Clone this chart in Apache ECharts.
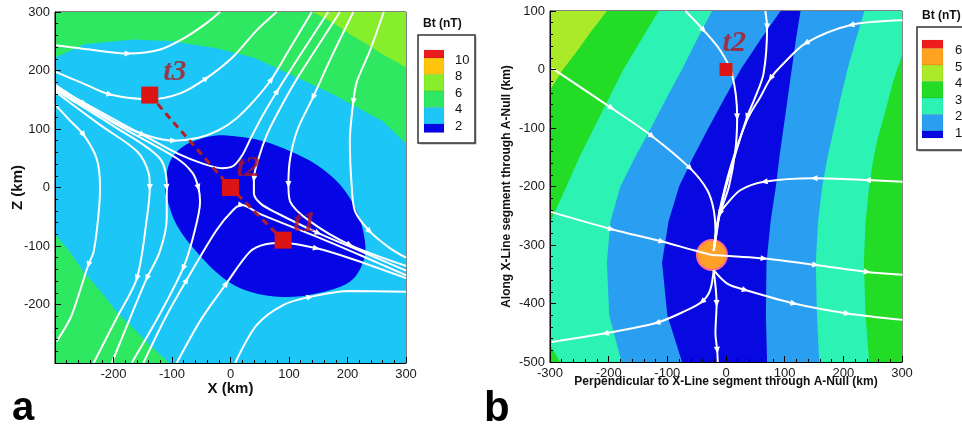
<!DOCTYPE html>
<html>
<head>
<meta charset="utf-8">
<script src="https://cdn.jsdelivr.net/npm/echarts@6/dist/echarts.min.js"></script>
<style>html,body{margin:0;padding:0;background:#fff}#main{width:962px;height:428px}</style>
</head>
<body>
<div id="main"></div>
<script>
var myChart = echarts.init(document.getElementById('main'));
var FONT = 'Liberation Sans';

// ---- panel a : legend levels and colours
var aLegendLabels = ['10', '8', '6', '4', '2'];
var aLegendColors = ['#ec1c1c', '#ffc40c', '#86ee2a', '#2ee862', '#1cc6f6', '#0505e6'];

// panel a contour regions (km)
var aGreenTop = [[-330,222],[-300,222],[-250,245],[-166,253],[-100,250],[-24,238],[40,222],[90,199],[176,159],[261,113],[300,75],[330,55],[330,330],[-330,330]];
var aLimeTop = [[140,330],[140,300],[175,282],[204,262],[235,244],[261,227],[285,214],[300,205],[330,190],[330,330]];
var aGreenBottom = [[-330,-80],[-300,-80],[-275,-110],[-251,-144],[-220,-180],[-195,-212],[-165,-242],[-138,-269],[-105,-300],[-100,-330],[-330,-330]];
var aBlueCore = [[-112,0],[-103,45],[-81,70],[-52,83],[-24,89],[11,87],[56,79],[102,62],[147,39],[187,5],[216,-41],[230,-93],[227,-127],[204,-161],[147,-181],[90,-187],[33,-178],[-12,-155],[-58,-110],[-92,-64],[-109,-18]];

// panel a streamlines (km)
var aU1 = [[-300,243],[-235,235],[-175,229],[-120,236],[-75,258],[-41,281],[-18,300]];
var aU2 = [[-300,198],[-252,178],[-206,159],[-138,151],[-86,161],[-41,187],[5,224],[45,269],[79,300]];
var aU3 = [[-300,176],[-250,143],[-195,110],[-140,88],[-97,80],[-55,85],[-20,98],[10,118],[40,148],[70,185],[100,235],[139,300]];
var aU4 = [[-300,172],[-220,128],[-150,90],[-90,58],[-45,40],[-15,33],[5,37],[20,55],[35,85],[55,123],[80,165],[115,220],[167,300]];
var aR1 = [[187,300],[145,235],[110,180],[82,130],[62,90],[48,50],[40,15],[40,-10],[52,-28],[80,-44],[150,-78],[230,-112],[300,-142]];
var aR2 = [[210,300],[172,222],[141,154],[115,100],[102,50],[99,5],[102,-24],[136,-58],[204,-98],[300,-134]];
var aR3 = [[262,300],[238,233],[216,181],[210,147],[204,79],[207,5],[213,-41],[238,-75],[273,-104],[300,-120]];
var aH1 = [[-300,142],[-275,115],[-251,90],[-229,50],[-223,0],[-226,-50],[-234,-110],[-243,-132],[-260,-185],[-274,-224],[-297,-263]];
var aH2 = [[-300,164],[-223,107],[-160,62],[-140,25],[-138,0],[-143,-53],[-160,-155],[-195,-224],[-234,-300]];
var aH3 = [[-300,167],[-195,102],[-121,50],[-109,0],[-109,-53],[-121,-110],[-143,-155],[-172,-224],[-203,-300]];
var aH4 = [[-300,170],[-195,108],[-92,50],[-65,25],[-55,0],[-52,-24],[-63,-81],[-81,-138],[-120,-215],[-169,-300]];
var aB1 = [[-149,-300],[-110,-220],[-75,-158],[-24,-73],[5,-38],[19,-30],[50,-45],[147,-84],[227,-118],[300,-150]];
var aB2 = [[-92,-300],[-50,-225],[-7,-164],[33,-110],[60,-97],[90,-95],[147,-104],[204,-121],[300,-155]];
var aB3 = [[8,-300],[45,-235],[90,-201],[136,-187],[204,-177],[300,-178]];
var aLines = [aU1, aU2, aU3, aU4, aR1, aR2, aR3, aH1, aH2, aH3, aH4, aB1, aB2, aB3];
var aArrowIdx = [[2],[2,5],[1,4,9],[2,10],[6,10],[2,5,8],[3,7],[2,7],[4,6],[3,6],[4,7],[2,5],[2,6],[3]];

// panel a spacecraft positions
var aSites = [[-138,158],[0,0],[90,-90]];
var aSiteNames = ['t3', 't2', 't1'];
var aSiteLabelPos = [[-95,197],[30,33],[127,-61]];

// ---- panel b : legend levels and colours
var bLegendLabels = ['6', '5', '4', '3', '2', '1'];
var bLegendColors = ['#ee1c1c', '#ffa21f', '#aaea28', '#22dc26', '#2cf2b4', '#2a9ef0', '#0808e0'];

// panel b contour boundaries (km), top to bottom
var bLimeEdge = [[-195,110],[-203,100],[-230,65],[-255,30],[-278,0],[-300,-35],[-310,-45]];
var bGreenAquaLeft = [[-115,100],[-145,50],[-175,0],[-200,-50],[-225,-100],[-250,-150],[-272,-200],[-300,-262],[-310,-330],[-306,-420],[-300,-470],[-283,-500]];
var bAquaBlueLeft = [[-24,100],[-50,50],[-75,0],[-102,-50],[-128,-100],[-155,-150],[-180,-200],[-197,-260],[-203,-330],[-199,-420],[-178,-500]];
var bBlueDarkLeft = [[93,100],[58,50],[25,0],[-3,-50],[-30,-100],[-56,-150],[-80,-200],[-98,-260],[-109,-330],[-100,-420],[-75,-500]];
var bDarkBlueRight = [[127,100],[119,50],[112,0],[105,-50],[98,-100],[91,-150],[85,-200],[76,-260],[69,-330],[68,-420],[70,-500]];
var bBlueAquaRight = [[236,100],[221,50],[207,0],[195,-50],[184,-100],[173,-150],[164,-200],[157,-260],[153,-330],[155,-420],[159,-500]];
var bAquaGreenRight = [[330,60],[300,25],[285,-20],[272,-70],[258,-120],[250,-160],[244,-200],[238,-260],[235,-330],[238,-420],[244,-500]];
var bOrangeCorner = [[-310,110],[-288,110],[-310,86]];

// panel b streamlines (km)
var bS1 = [[-69,100],[-38,67],[-10,33],[10,-7],[19,-81],[16,-138],[5,-200],[-12,-252],[-21,-308]];
var bS2 = [[67,100],[70,73],[64,-7],[48,-52],[36,-81],[13,-155],[-10,-240],[-18,-292],[-21,-310]];
var bS3 = [[301,84],[213,76],[136,45],[93,5],[76,-15],[59,-46],[36,-86],[8,-166],[-12,-246],[-19,-292],[-21,-310]];
var bS4 = [[301,-192],[241,-189],[150,-186],[65,-192],[25,-206],[2,-229],[-10,-246],[-16,-280],[-21,-310]];
var bS5 = [[-296,2],[-195,-66],[-126,-114],[-61,-169],[-32,-206],[-21,-240],[-18,-280],[-21,-310]];
var bS6 = [[-300,-243],[-195,-273],[-109,-294],[-55,-309],[-24,-317]];
var bS7 = [[-24,-317],[65,-323],[153,-334],[241,-346],[301,-351]];
var bS8 = [[-21,-343],[2,-366],[33,-377],[116,-400],[207,-417],[301,-428]];
var bS9 = [[-21,-343],[-27,-377],[-41,-397],[-72,-414],[-118,-433],[-206,-451],[-297,-466]];
var bS10 = [[-21,-343],[-16,-400],[-18,-451],[-15,-480],[-14,-500]];
var bLines = [bS1, bS2, bS3, bS4, bS5, bS6, bS7, bS8, bS9, bS10];
var bArrowIdx = [[1,4],[1,4],[1,2,4],[1,2,3,6],[1,2,3],[1,2],[1,2,3],[2,3,4],[2,4,5],[1,3]];

var bNull = [[-24,-317]];
var bSites = [[0,0]];
var bSiteLabelPos = [[14,45]];

// ---- helpers
function band(left, right) {
  var pts = [[left[0][0], 110]].concat(left);
  pts.push([left[left.length-1][0], -510]);
  pts.push([right[right.length-1][0], -510]);
  pts = pts.concat(right.slice().reverse());
  pts.push([right[0][0], 110]);
  return pts;
}

function polySeries(xi, polys) {
  return {
    type: 'custom', xAxisIndex: xi, yAxisIndex: xi, clip: true, z: 1, silent: true,
    data: polys.map(function () { return [0, 0]; }),
    renderItem: function (params, api) {
      var p = polys[params.dataIndex];
      return {
        type: 'polygon',
        shape: { points: p.pts.map(function (d) { return api.coord(d); }), smooth: p.smooth || 0 },
        style: { fill: p.color }
      };
    }
  };
}

function lineSeries(xi, lines) {
  return lines.map(function (l) {
    return {
      type: 'line', xAxisIndex: xi, yAxisIndex: xi, data: l, smooth: 0.3, symbol: 'none',
      lineStyle: { color: '#fff', width: 2 }, z: 3, silent: true, clip: true
    };
  });
}

function arrowSeries(xi, lines, idxs) {
  var out = [];
  lines.forEach(function (line, i) {
    idxs[i].forEach(function (k) {
      var a = line[Math.max(k - 1, 0)], b = line[Math.min(k + 1, line.length - 1)];
      var ang = Math.atan2(b[1] - a[1], b[0] - a[0]) * 180 / Math.PI;
      out.push({ value: line[k], symbolRotate: ang - 90 });
    });
  });
  return {
    type: 'scatter', xAxisIndex: xi, yAxisIndex: xi, data: out, symbol: 'triangle',
    symbolSize: [6, 7], itemStyle: { color: '#fff', opacity: 1 }, z: 3, silent: true
  };
}

function xAxisOf(gi, name, gap, hideMin) {
  return {
    gridIndex: gi, type: 'value', min: -300, max: 300, interval: 100, z: 10,
    name: name, nameLocation: 'middle', nameGap: gap, nameMoveOverlap: false,
    nameTextStyle: { fontFamily: FONT, fontWeight: 'bold', fontSize: gi === 0 ? 15 : 12, color: '#111' },
    axisLine: { onZero: false, lineStyle: { color: '#000', width: 1 } },
    axisTick: { inside: true, length: 6, lineStyle: { color: '#000' } },
    minorTick: { show: true, splitNumber: 5, length: 3, lineStyle: { color: '#000' } },
    splitLine: { show: false },
    axisLabel: { showMinLabel: !hideMin, margin: 5, fontFamily: FONT, fontSize: 13, color: '#1a1a1a' }
  };
}

function yAxisOf(gi, min, max, name, gap, hideMin) {
  return {
    gridIndex: gi, type: 'value', min: min, max: max, interval: 100, z: 10,
    name: name, nameLocation: 'middle', nameGap: gap, nameMoveOverlap: false,
    nameTextStyle: { fontFamily: FONT, fontWeight: 'bold', fontSize: gi === 0 ? 15 : 12, color: '#111' },
    axisLine: { onZero: false, lineStyle: { color: '#000', width: 1 } },
    axisTick: { inside: true, length: 6, lineStyle: { color: '#000' } },
    minorTick: { show: true, splitNumber: 5, length: 3, lineStyle: { color: '#000' } },
    splitLine: { show: false },
    axisLabel: { showMinLabel: !hideMin, margin: 5, fontFamily: FONT, fontSize: 13, color: '#1a1a1a' }
  };
}

function legendGraphics(x0, top, boxW, boxH, swX, swY, swW, swHs, colors, labels, labX, labOff) {
  var els = [];
  els.push({ type: 'text', left: x0 + 5, top: top - 17, style: { text: 'Bt (nT)', font: 'bold 12px ' + FONT, fill: '#111' } });
  els.push({ type: 'rect', shape: { x: x0 + 1.5, y: top + 1.5, width: boxW, height: boxH }, style: { fill: '#aaa' }, z: 90 });
  els.push({ type: 'rect', shape: { x: x0, y: top, width: boxW, height: boxH }, style: { fill: '#fff', stroke: '#333', lineWidth: 1.5 }, z: 91 });
  var y = swY;
  colors.forEach(function (c, i) {
    els.push({ type: 'rect', shape: { x: swX, y: y, width: swW, height: swHs[i] }, style: { fill: c, stroke: 'rgba(0,0,0,0.15)', lineWidth: 0.5 }, z: 92 });
    y += swHs[i];
    if (i < labels.length) {
      els.push({ type: 'text', x: labX, y: y + labOff, style: { text: labels[i], font: '13px ' + FONT, fill: '#111', verticalAlign: 'middle' }, z: 93 });
    }
  });
  return els;
}

var aPolys = [
  { pts: [[-330,-330],[330,-330],[330,330],[-330,330]], color: aLegendColors[4] },
  { pts: aGreenTop, color: aLegendColors[3] },
  { pts: aLimeTop, color: aLegendColors[2] },
  { pts: aGreenBottom, color: aLegendColors[3] },
  { pts: aBlueCore, color: aLegendColors[5], smooth: 0.35 }
];
var bPolys = [
  { pts: [[-330,-530],[330,-530],[330,130],[-330,130]], color: bLegendColors[3] },
  { pts: band(bGreenAquaLeft, bAquaGreenRight), color: bLegendColors[4] },
  { pts: band(bAquaBlueLeft, bBlueAquaRight), color: bLegendColors[5] },
  { pts: band(bBlueDarkLeft, bDarkBlueRight), color: bLegendColors[6] },
  { pts: [[-310,110]].concat(bLimeEdge), color: bLegendColors[2] },
  { pts: bOrangeCorner, color: bLegendColors[1] }
];

function siteLabels(xi, pos, names) {
  return {
    type: 'scatter', xAxisIndex: xi, yAxisIndex: xi, symbolSize: 1, z: 6, silent: true,
    itemStyle: { color: 'rgba(0,0,0,0)' },
    data: pos.map(function (p, i) { return { value: p, name: names[i] }; }),
    label: {
      show: true, position: 'inside', formatter: '{b}',
      fontFamily: 'Liberation Serif', fontStyle: 'italic', fontWeight: 'bold', fontSize: 30, color: '#b4161b'
    }
  };
}

var series = [];
series.push(polySeries(0, aPolys));
series.push(polySeries(1, bPolys));
series = series.concat(lineSeries(0, aLines), lineSeries(1, bLines));
series.push(arrowSeries(0, aLines, aArrowIdx));
series.push(arrowSeries(1, bLines, bArrowIdx));
series.push({
  type: 'scatter', xAxisIndex: 1, yAxisIndex: 1, data: bNull, symbolSize: 30, z: 2, silent: true,
  itemStyle: { color: '#ffa126', borderColor: '#ff6c8c', borderWidth: 2, opacity: 1 }
});
series.push({
  type: 'line', xAxisIndex: 0, yAxisIndex: 0, data: aSites, symbol: 'none', z: 4, silent: true,
  lineStyle: { color: '#b42020', width: 3, type: [7, 5] }
});
series.push({
  type: 'scatter', xAxisIndex: 0, yAxisIndex: 0, data: aSites, symbol: 'rect', symbolSize: 17, z: 5, silent: true,
  itemStyle: { color: '#dd1414', opacity: 1 }
});
series.push({
  type: 'scatter', xAxisIndex: 1, yAxisIndex: 1, data: bSites, symbol: 'rect', symbolSize: 13, z: 5, silent: true,
  itemStyle: { color: '#dd1414', opacity: 1 }
});
series.push(siteLabels(0, aSiteLabelPos, aSiteNames));
series.push(siteLabels(1, bSiteLabelPos, ['t2']));

var graphics = []
  .concat(legendGraphics(418, 35, 57, 108, 424, 50, 20, [8, 16.5, 16.5, 16.5, 16.5, 8.5], aLegendColors, aLegendLabels, 455, 2))
  .concat(legendGraphics(917, 27, 60, 123, 922, 40, 21, [8.5, 16.5, 16.5, 16.5, 16.5, 16.5, 7], bLegendColors, bLegendLabels, 955, 2));
graphics.push({ type: 'text', x: 12, y: 409, style: { text: 'a', font: 'bold 40px ' + FONT, fill: '#000', verticalAlign: 'middle' } });
graphics.push({ type: 'text', x: 484, y: 409, style: { text: 'b', font: 'bold 42px ' + FONT, fill: '#000', verticalAlign: 'middle' } });

var option = {
  animation: false,
  backgroundColor: '#fff',
  grid: [
    { left: 55, top: 12, width: 351, height: 351, show: true, borderColor: '#000', borderWidth: 1, backgroundColor: 'transparent' },
    { left: 550, top: 11, width: 352, height: 351, show: true, borderColor: '#000', borderWidth: 1, backgroundColor: 'transparent' }
  ],
  xAxis: [
    xAxisOf(0, 'X (km)', 18, true),
    xAxisOf(1, 'Perpendicular to X-Line segment through A-Null (km)', 14, false)
  ],
  yAxis: [
    yAxisOf(0, -300, 300, 'Z (km)', 30, true),
    yAxisOf(1, -500, 100, 'Along X-Line segment through A-Null (km)', 37, false)
  ],
  graphic: { elements: graphics },
  series: series
};
myChart.setOption(option);
</script>
</body>
</html>
